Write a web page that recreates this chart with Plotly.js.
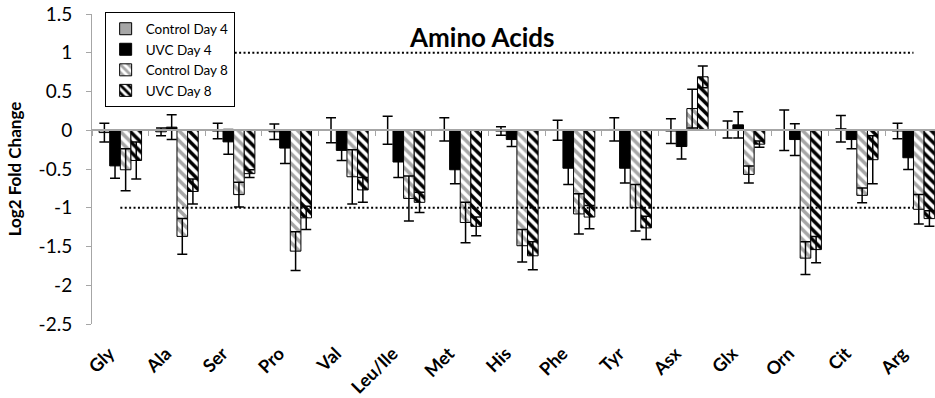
<!DOCTYPE html>
<html>
<head>
<meta charset="utf-8">
<script src="https://cdn.plot.ly/plotly-3.0.1.min.js"></script>
<style>
  html, body { margin: 0; padding: 0; background: #fff; }
  #chart { width: 935px; height: 398px; }
</style>
</head>
<body>
<div id="chart"></div>
<script>
// Amino acid log2 fold changes (mean and error) for each treatment group
const categories = ['Gly', 'Ala', 'Ser', 'Pro', 'Val', 'Leu/Ile', 'Met', 'His', 'Phe', 'Tyr', 'Asx', 'Glx', 'Orn', 'Cit', 'Arg'];

const controlDay4    = [-0.03, -0.02, -0.01, -0.02, 0.00, 0.00, 0.01, -0.01, 0.00, 0.01, -0.01, 0.01, 0.00, 0.02, -0.01];
const controlDay4Err = [0.12, 0.05, 0.10, 0.10, 0.16, 0.18, 0.15, 0.055, 0.13, 0.15, 0.16, 0.11, 0.26, 0.17, 0.10];

const uvcDay4    = [-0.46, 0.04, -0.15, -0.23, -0.26, -0.41, -0.51, -0.12, -0.49, -0.49, -0.21, 0.07, -0.12, -0.12, -0.355];
const uvcDay4Err = [0.16, 0.16, 0.16, 0.20, 0.13, 0.20, 0.18, 0.09, 0.21, 0.19, 0.16, 0.17, 0.205, 0.12, 0.15];

const controlDay8    = [-0.51, -1.37, -0.83, -1.56, -0.60, -0.88, -1.19, -1.49, -1.08, -1.00, 0.28, -0.57, -1.65, -0.84, -1.02];
const controlDay8Err = [0.27, 0.23, 0.16, 0.25, 0.35, 0.29, 0.26, 0.21, 0.26, 0.30, 0.25, 0.11, 0.21, 0.095, 0.19];

const uvcDay8    = [-0.39, -0.79, -0.56, -1.13, -0.77, -0.93, -1.24, -1.62, -1.12, -1.26, 0.69, -0.18, -1.54, -0.38, -1.14];
const uvcDay8Err = [0.24, 0.16, 0.05, 0.15, 0.16, 0.13, 0.12, 0.18, 0.15, 0.15, 0.14, 0.04, 0.17, 0.31, 0.10];

// two-fold change reference levels (log2 = +1 / -1)
const thresholdLevels = [1, -1];

const yTickVals = [-2.5, -2, -1.5, -1, -0.5, 0, 0.5, 1, 1.5];
const yTickText = ['-2.5', '-2', '-1.5', '-1', '-0.5', '0', '0.5', '1', '1.5'];

const FONT = 'Lato, "Open Sans", sans-serif';

function errBar(arr) {
  return { type: 'data', array: arr, visible: true, color: '#000', thickness: 1.5, width: 5 };
}

function barTrace(name, y, err, marker, group) {
  return {
    type: 'bar', name: name, x: categories, y: y,
    error_y: errBar(err), marker: marker, legendgroup: group,
    hoverinfo: 'x+y+name'
  };
}

const outline = { color: '#000', width: 1 };

const traces = [
  barTrace('Control Day 4', controlDay4, controlDay4Err,
    { color: '#a6a6a6', line: outline }, 'g1'),
  barTrace('UVC Day 4', uvcDay4, uvcDay4Err,
    { color: '#000000', line: outline }, 'g2'),
  barTrace('Control Day 8', controlDay8, controlDay8Err,
    { color: '#ffffff', line: outline,
      pattern: { shape: '\\', fgcolor: '#a6a6a6', bgcolor: '#ffffff', fgopacity: 1, size: 7, solidity: 0.5, fillmode: 'replace' } }, 'g3'),
  barTrace('UVC Day 8', uvcDay8, uvcDay8Err,
    { color: '#ffffff', line: outline,
      pattern: { shape: '\\', fgcolor: '#000000', bgcolor: '#ffffff', fgopacity: 1, size: 7, solidity: 0.5, fillmode: 'replace' } }, 'g4')
];

// dotted reference lines spanning first to last category
thresholdLevels.forEach(function (lvl) {
  traces.push({
    type: 'scatter', mode: 'lines',
    x: [categories[0], categories[categories.length - 1]],
    y: [lvl, lvl],
    line: { color: '#000', width: 2, dash: '2px,2.4px' },
    showlegend: false, hoverinfo: 'skip'
  });
});

// carrier trace for the axis drawn along y = 0
traces.push({
  type: 'scatter', mode: 'none', x: categories, y: controlDay4,
  xaxis: 'x2', showlegend: false, hoverinfo: 'skip'
});

const xRange = [-0.5, 14.38];

const layout = {
  width: 935, height: 398,
  margin: { l: 92, r: 0, t: 14, b: 74, pad: 0 },
  paper_bgcolor: '#ffffff', plot_bgcolor: '#ffffff',
  font: { family: FONT, color: '#000' },
  barmode: 'group', bargap: 0.25, bargroupgap: 0,
  showlegend: true,
  legend: {
    x: 0.015, y: 1.005, xanchor: 'left', yanchor: 'top',
    bgcolor: '#ffffff', bordercolor: '#000', borderwidth: 1,
    font: { family: FONT, size: 13.5, color: '#000' },
    itemwidth: 30, tracegroupgap: 7, traceorder: 'normal'
  },
  xaxis: {
    type: 'category', range: xRange, fixedrange: true,
    showline: false, showgrid: false, zeroline: false,
    ticks: 'outside', ticklen: 11, tickcolor: 'rgba(0,0,0,0)',
    tickangle: -45, ticklabelshift: -11,
    tickfont: { family: FONT, size: 18, weight: 700, color: '#000' }
  },
  xaxis2: {
    type: 'category', range: xRange, overlaying: 'x', anchor: 'free', position: 0.625,
    side: 'bottom', fixedrange: true,
    showline: true, linecolor: '#a6a6a6', linewidth: 2,
    showgrid: false, zeroline: false,
    ticks: 'outside', tickson: 'boundaries', ticklen: 5, tickcolor: '#a6a6a6', tickwidth: 1,
    showticklabels: false
  },
  yaxis: {
    range: [-2.5, 1.5], fixedrange: true,
    tickvals: yTickVals, ticktext: yTickText,
    showline: true, linecolor: '#a6a6a6', linewidth: 1,
    ticks: 'outside', ticklen: 5, tickcolor: '#a6a6a6',
    ticklabelstandoff: 10,
    showgrid: false, zeroline: false,
    tickfont: { family: FONT, size: 19, color: '#000' },
    title: { text: 'Log2 Fold Change', font: { family: FONT, size: 17, weight: 700, color: '#000' }, standoff: 12 }
  },
  annotations: [{
    text: 'Amino Acids', xref: 'paper', yref: 'paper',
    x: 0.4626, y: 0.926, xanchor: 'center', yanchor: 'middle',
    showarrow: false,
    font: { family: FONT, size: 26, weight: 700, color: '#000' }
  }]
};

Plotly.newPlot('chart', traces, layout, { displayModeBar: false, staticPlot: true });
</script>
</body>
</html>
